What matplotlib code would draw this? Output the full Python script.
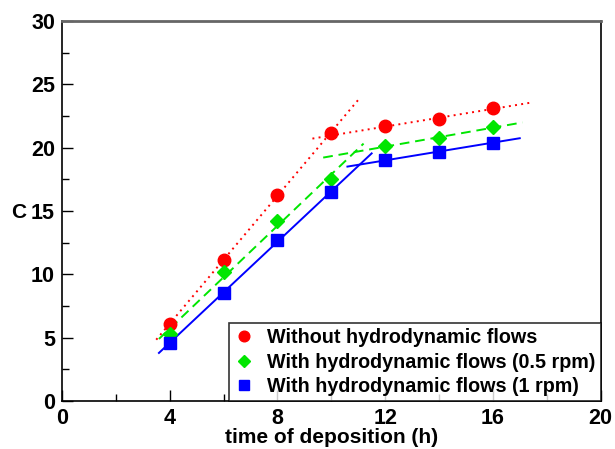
import numpy as np
import matplotlib
matplotlib.use("Agg")
import matplotlib.pyplot as plt
from matplotlib.ticker import MultipleLocator

plt.rcParams['font.family'] = ['Liberation Sans', 'DejaVu Sans']
plt.rcParams['font.weight'] = 'bold'

hours = [4, 6, 8, 10, 12, 14, 16]
c_no_flow = [6.1, 11.1, 16.3, 21.2, 21.7, 22.3, 23.1]
c_flow_05 = [5.3, 10.2, 14.2, 17.5, 20.1, 20.8, 21.6]
c_flow_1 = [4.6, 8.5, 12.7, 16.5, 19.0, 19.7, 20.4]
labels = ["Without hydrodynamic flows",
          "With hydrodynamic flows (0.5 rpm)",
          "With hydrodynamic flows (1 rpm)"]
x_ticks = [0, 4, 8, 12, 16, 20]
y_ticks = [0, 5, 10, 15, 20, 25, 30]

fig = plt.figure(figsize=(6.15, 4.49), dpi=100)
ax = fig.add_axes([0.1008, 0.107, 0.8757, 0.846])

x = np.array(hours, dtype=float)
series = [
    (c_no_flow, '#ff0000', 'o', 9, (0, (1, 2.2)), (3.5, 11.0), (9.3, 17.4)),
    (c_flow_05, '#00e600', 'D', 7, (0, (5, 3)), (3.6, 11.2), (9.7, 17.1)),
    (c_flow_1, '#0000ff', 's', 8, '-', (3.6, 11.5), (10.6, 17.0)),
]

# two linear regimes: growth (4-10 h) and saturation (12-16 h)
for vals, col, mk, ms, ls, seg1, seg2 in series:
    y = np.array(vals, dtype=float)
    p1 = np.polyfit(x[:4], y[:4], 1)
    p2 = np.polyfit(x[4:], y[4:], 1)
    xs1 = np.array(seg1)
    xs2 = np.array(seg2)
    ax.plot(xs1, np.polyval(p1, xs1), color=col, ls=ls, lw=1.4)
    ax.plot(xs2, np.polyval(p2, xs2), color=col, ls=ls, lw=1.4)

handles = []
for (vals, col, mk, ms, *_), lab in zip(series, labels):
    h, = ax.plot(hours, vals, ls='none', marker=mk, color=col, ms=ms,
                 label=lab, zorder=3)
    handles.append(h)

ax.set_xlim(0, 20)
ax.set_ylim(0, 30)
ax.set_xticks(x_ticks, [str(v) for v in x_ticks], fontsize=15.5,
              fontweight='heavy')
ax.set_yticks(y_ticks, [str(v) for v in y_ticks], fontsize=15.5,
              fontweight='heavy')
ax.xaxis.set_minor_locator(MultipleLocator(2))
ax.yaxis.set_minor_locator(MultipleLocator(2.5))
ax.tick_params(which='both', direction='in', top=False, right=False, width=1)
ax.tick_params(which='major', length=8)
ax.tick_params(which='minor', length=5)
ax.tick_params(axis='x', pad=5)
ax.tick_params(axis='y', pad=5)

for side in ['left', 'bottom', 'right']:
    ax.spines[side].set_linewidth(1.2)
    ax.spines[side].set_color('black')
ax.spines['top'].set_linewidth(2)
ax.spines['top'].set_color('#666666')

ax.set_xlabel("time of deposition (h)", fontsize=15, fontweight='bold',
              va='center')
ax.xaxis.set_label_coords(0.5, -0.096)
ax.set_ylabel("C", fontsize=15, fontweight='bold', rotation=0,
              va='center', ha='center')
ax.yaxis.set_label_coords(-0.080, 0.495)

leg = ax.legend(handles=handles, loc='lower right', bbox_to_anchor=(1, 0),
                borderaxespad=0, prop={'weight': 'bold', 'size': 14.2},
                frameon=True, fancybox=False, edgecolor='black',
                handlelength=1.0, handletextpad=0.7, labelspacing=0.27,
                borderpad=0.25, markerscale=0.85)
leg.get_frame().set_linewidth(1.2)

fig.savefig("out.png", dpi=100)
